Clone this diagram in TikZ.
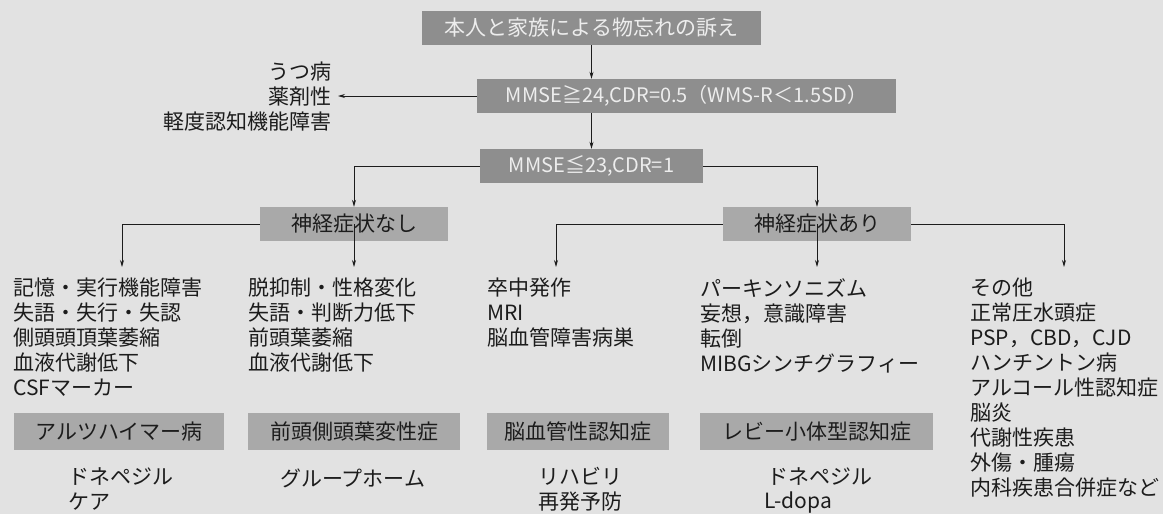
\documentclass[tikz,border=0pt]{standalone}
\usepackage{fontspec}
\setmainfont{Noto Sans CJK JP}
\usetikzlibrary{arrows.meta}

\definecolor{paper}{HTML}{E2E2E2}
\definecolor{headgray}{HTML}{8E8E8E}
\definecolor{boxgray}{HTML}{A9A9A9}
\definecolor{ink}{HTML}{1C1C1C}

\tikzset{
        arr/.style={-{Stealth[length=7pt,width=4pt]}, draw=ink, line width=0.8pt},
        headbox/.style={fill=headgray, text=white!93!black, minimum height=34pt, inner sep=0pt, font=\fontsize{21}{25}\selectfont},
        nervebox/.style={fill=boxgray, text=ink, minimum height=34pt, minimum width=188pt, inner sep=0pt, font=\fontsize{21}{25}\selectfont},
        diagbox/.style={fill=boxgray, text=ink, minimum height=37pt, inner sep=0pt, font=\fontsize{21}{25}\selectfont},
        listtext/.style={text=ink, inner sep=0pt, align=left, font=\fontsize{21}{25}\selectfont}
}

\begin{document}
\begin{tikzpicture}[x=1pt, y=-1pt]
        % Paper
        \fill[paper] (0,0) rectangle (1163,514);
        \useasboundingbox (0,0) rectangle (1163,514);

        % Top boxes
        \node[headbox, minimum width=339pt] (top) at (591.5,28) {本人と家族による物忘れの訴え};
        \node[headbox, minimum width=419pt, font=\fontsize{20}{24}\selectfont] (mmsehi) at (686.5,96) {MMSE≧24,CDR=0.5（WMS-R＜1.5SD）};
        \node[headbox, minimum width=223pt, font=\fontsize{20}{24}\selectfont] (mmselo) at (591.5,166) {MMSE≦23,CDR=1};
        \node[listtext, align=right, anchor=east, inner xsep=6pt] (mild) at (338,97) {うつ病\\薬剤性\\軽度認知機能障害};

        \draw[arr] (top.south) -- (top.south |- mmsehi.north);
        \draw[arr] (mmselo.north |- mmsehi.south) -- (mmselo.north);
        \draw[arr] (mmsehi.west) -- (mild.east |- mmsehi.west);

        % Neurological signs
        \node[nervebox] (nerveno) at (354,224) {神経症状なし};
        \node[nervebox] (nerveyes) at (817,224) {神経症状あり};
        \draw[arr] (mmselo.west) -| (nerveno.north);
        \draw[arr] (mmselo.east) -| (nerveyes.north);

        % Arrow ends above the columns
        \coordinate (c1) at (122,267);
        \coordinate (c2) at (354,267);
        \coordinate (c3) at (556,267);
        \coordinate (c4) at (817,267);
        \coordinate (c5) at (1064,267);
        \foreach \c in {c1,c2}
            \draw[arr] (nerveno) -| (\c);
        \foreach \c in {c3,c4,c5}
            \draw[arr] (nerveyes) -| (\c);

        % Findings
        \node[listtext, anchor=north west] (alzlist) at (13,278) {記憶・実行機能障害\\失語・失行・失認\\側頭頭頂葉萎縮\\血液代謝低下\\CSFマーカー};
        \node[listtext, anchor=north west] (ftldlist) at (248,278) {脱抑制・性格変化\\失語・判断力低下\\前頭葉萎縮\\血液代謝低下};
        \node[listtext, anchor=north west] (vadlist) at (487,278) {卒中発作\\MRI\\脳血管障害病巣};
        \node[listtext, anchor=north west] (dlblist) at (700,278) {パーキンソニズム\\妄想，意識障害\\転倒\\MIBGシンチグラフィー};
        \node[listtext, anchor=north west] (otherlist) at (970,278) {その他\\正常圧水頭症\\PSP，CBD，CJD\\ハンチントン病\\アルコール性認知症\\脳炎\\代謝性疾患\\外傷・腫瘍\\内科疾患合併症など};

        % Diagnoses
        \node[diagbox, minimum width=210pt] (alz) at (119,431.5) {アルツハイマー病};
        \node[diagbox, minimum width=212pt] (ftld) at (354,431.5) {前頭側頭葉変性症};
        \node[diagbox, minimum width=182pt] (vad) at (578,431.5) {脳血管性認知症};
        \node[diagbox, minimum width=233pt] (dlb) at (816.5,431.5) {レビー小体型認知症};

        % Care
        \node[listtext, anchor=north west] (alzcare) at (68,467) {ドネペジル\\ケア};
        \node[listtext, anchor=north west] (ftldcare) at (280,469) {グループホーム};
        \node[listtext, align=center, anchor=north] (vadcare) at (580,467) {リハビリ\\再発予防};
        \node[listtext, anchor=north west] (dlbcare) at (767,467) {ドネペジル};
        \node[listtext, anchor=north west] (dlbdrug) at (764,492) {L-dopa};
\end{tikzpicture}
\end{document}
